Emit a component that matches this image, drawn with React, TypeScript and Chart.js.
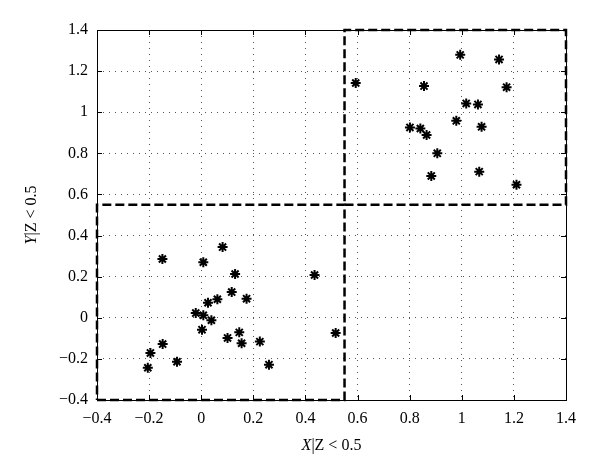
import React, { useEffect, useRef } from "react";
import { Chart, registerables } from "chart.js";

Chart.register(...registerables);

// Lower-left cluster
const xLower = [-0.149, 0.008, 0.082, 0.13, 0.117, 0.174, 0.062, 0.026, -0.021, 0.008, 0.039, 0.003, 0.101, 0.146, 0.155, 0.225, 0.26, -0.148, -0.195, -0.205, -0.093, 0.435, 0.516];
const yLower = [0.286, 0.27, 0.344, 0.213, 0.125, 0.093, 0.09, 0.073, 0.023, 0.012, -0.012, -0.058, -0.098, -0.071, -0.124, -0.116, -0.228, -0.128, -0.171, -0.243, -0.214, 0.208, -0.074];
// Upper-right cluster
const xUpper = [0.593, 0.994, 1.143, 1.172, 0.855, 1.017, 1.062, 0.979, 1.076, 0.801, 0.841, 0.865, 0.906, 0.883, 1.067, 1.21];
const yUpper = [1.142, 1.279, 1.257, 1.122, 1.127, 1.043, 1.038, 0.958, 0.929, 0.926, 0.921, 0.889, 0.8, 0.69, 0.711, 0.647];

const axisMin = -0.4;
const axisMax = 1.4;
const tickStep = 0.2;
const threshold = 0.55;
const xTitle = ["X", "|Z < 0.5"];
const yTitle = ["Y", "|Z < 0.5"];

const FONT = "'Liberation Serif', 'DejaVu Serif', serif";

function fmt(v: number): string {
  const r = Math.round(v * 10) / 10;
  if (Math.abs(r) < 1e-9) return "0";
  const s = String(Math.abs(r));
  return (r < 0 ? "\u2212" : "") + s;
}

const framePlugin = {
  id: "frame",
  beforeDatasetsDraw(chart: any) {
    const { ctx, chartArea, scales } = chart;
    const { left, right, top, bottom } = chartArea;
    ctx.save();
    ctx.strokeStyle = "#000";
    ctx.lineWidth = 1;
    ctx.setLineDash([]);
    ctx.strokeRect(left + 0.5, top + 0.5, right - left, bottom - top);
    const tl = 5;
    ctx.beginPath();
    scales.x.ticks.forEach((t: any) => {
      const px = Math.round(scales.x.getPixelForValue(t.value)) + 0.5;
      ctx.moveTo(px, bottom);
      ctx.lineTo(px, bottom - tl);
      ctx.moveTo(px, top);
      ctx.lineTo(px, top + tl);
    });
    scales.y.ticks.forEach((t: any) => {
      const py = Math.round(scales.y.getPixelForValue(t.value)) + 0.5;
      ctx.moveTo(left, py);
      ctx.lineTo(left + tl, py);
      ctx.moveTo(right, py);
      ctx.lineTo(right - tl, py);
    });
    ctx.stroke();
    ctx.restore();
  },
  afterDraw(chart: any) {
    const { ctx, chartArea } = chart;
    const cx = (chartArea.left + chartArea.right) / 2;
    const cy = (chartArea.top + chartArea.bottom) / 2;
    const drawTitle = (parts: string[], x: number, y: number, rot: number) => {
      ctx.save();
      ctx.translate(x, y);
      ctx.rotate(rot);
      ctx.fillStyle = "#000";
      ctx.textBaseline = "middle";
      ctx.font = `italic 16px ${FONT}`;
      const w1 = ctx.measureText(parts[0]).width;
      ctx.font = `16px ${FONT}`;
      const w2 = ctx.measureText(parts[1]).width;
      const start = -(w1 + w2) / 2;
      ctx.textAlign = "left";
      ctx.font = `italic 16px ${FONT}`;
      ctx.fillText(parts[0], start, 0);
      ctx.font = `16px ${FONT}`;
      ctx.fillText(parts[1], start + w1, 0);
      ctx.restore();
    };
    drawTitle(xTitle, cx, 446, 0);
    drawTitle(yTitle, 32, cy, -Math.PI / 2);
  },
};

export default function App() {
  const ref = useRef<HTMLCanvasElement | null>(null);
  useEffect(() => {
    if (!ref.current) return;
    const lowerPts = xLower.map((x, i) => ({ x, y: yLower[i] }));
    const upperPts = xUpper.map((x, i) => ({ x, y: yUpper[i] }));
    const lowerBox = [
      { x: axisMin, y: axisMin },
      { x: threshold, y: axisMin },
      { x: threshold, y: threshold },
      { x: axisMin, y: threshold },
      { x: axisMin, y: axisMin },
    ];
    const upperBox = [
      { x: threshold, y: threshold },
      { x: axisMax, y: threshold },
      { x: axisMax, y: axisMax },
      { x: threshold, y: axisMax },
      { x: threshold, y: threshold },
    ];
    const markerStyle = {
      pointStyle: "star" as const,
      pointRadius: 5,
      pointBorderWidth: 2,
      pointBorderColor: "#000",
      pointBackgroundColor: "#000",
      showLine: false,
    };
    const boxStyle = {
      showLine: true,
      pointRadius: 0,
      borderColor: "#000",
      borderWidth: 2.5,
      borderDash: [9, 4],
      fill: false,
      clip: false as any,
    };
    const chart = new Chart(ref.current, {
      type: "scatter",
      data: {
        datasets: [
          { label: "lower", data: lowerPts, ...markerStyle },
          { label: "upper", data: upperPts, ...markerStyle },
          { label: "box1", data: lowerBox, ...boxStyle },
          { label: "box2", data: upperBox, ...boxStyle },
        ],
      },
      options: {
        animation: false,
        responsive: false,
        events: [],
        layout: { padding: { top: 30, right: 34, left: 0, bottom: 0 } },
        plugins: { legend: { display: false }, tooltip: { enabled: false } },
        scales: {
          x: {
            type: "linear",
            min: axisMin,
            max: axisMax,
            afterFit: (s: any) => {
              s.height = 74;
            },
            afterBuildTicks: (s: any) => {
              const t = [];
              for (let v = axisMin; v <= axisMax + 1e-9; v += tickStep) t.push({ value: Math.round(v * 10) / 10 });
              s.ticks = t;
            },
            ticks: {
              color: "#000",
              font: { family: FONT, size: 16 },
              padding: 9,
              maxRotation: 0,
              autoSkip: false,
              callback: (v: any) => fmt(Number(v)),
            },
            grid: { color: "#555", lineWidth: 1, drawTicks: false },
            border: { display: false, dash: [1, 5] },
          },
          y: {
            type: "linear",
            min: axisMin,
            max: axisMax,
            afterFit: (s: any) => {
              s.width = 97;
            },
            afterBuildTicks: (s: any) => {
              const t = [];
              for (let v = axisMin; v <= axisMax + 1e-9; v += tickStep) t.push({ value: Math.round(v * 10) / 10 });
              s.ticks = t;
            },
            ticks: {
              color: "#000",
              font: { family: FONT, size: 16 },
              padding: 9,
              autoSkip: false,
              callback: (v: any) => fmt(Number(v)),
            },
            grid: { color: "#555", lineWidth: 1, drawTicks: false },
            border: { display: false, dash: [1, 5] },
          },
        },
      },
      plugins: [framePlugin],
    });
    return () => chart.destroy();
  }, []);
  return (
    <div style={{ position: "absolute", left: 0, top: 0, width: 600, height: 474, background: "#fff" }}>
      <canvas ref={ref} width={600} height={474} style={{ display: "block" }} />
    </div>
  );
}
